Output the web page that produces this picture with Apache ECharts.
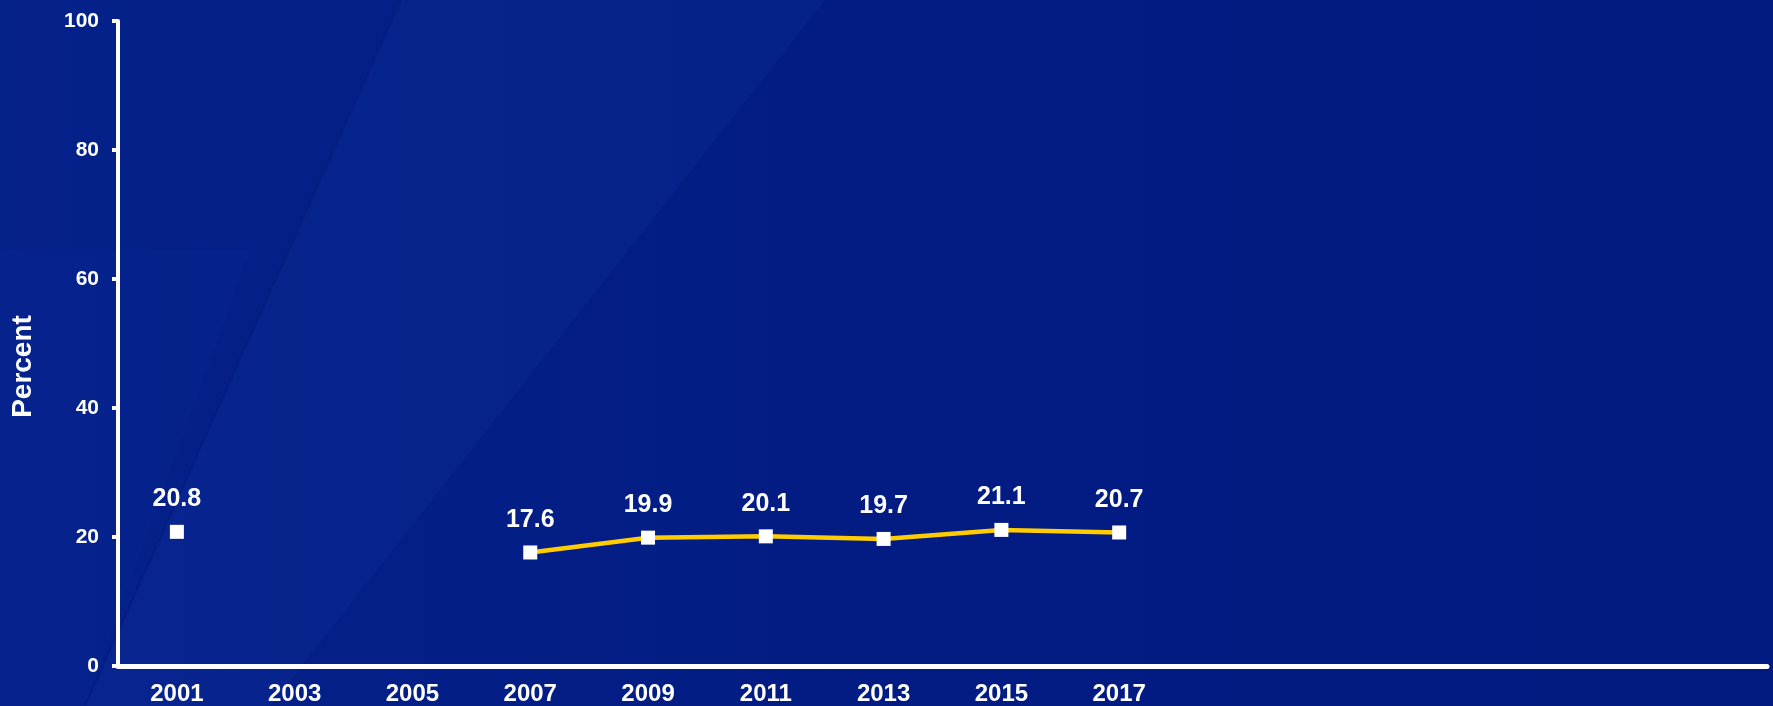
<!DOCTYPE html>
<html>
<head>
<meta charset="utf-8">
<script src="https://cdn.jsdelivr.net/npm/echarts@6/dist/echarts.min.js"></script>
<style>
html,body{margin:0;padding:0;background:#001a80;}
#chart{width:1773px;height:706px;}
</style>
</head>
<body>
<div id="chart"></div>
<script>
const categories = ['2001','2003','2005','2007','2009','2011','2013','2015','2017','2019','2021','2023','2025','2027'];
const tickLabels = ['2001','2003','2005','2007','2009','2011','2013','2015','2017','','','','',''];
const percentValues = [20.8, null, null, 17.6, 19.9, 20.1, 19.7, 21.1, 20.7, null, null, null, null, null];
const yTicks = [0, 20, 40, 60, 80, 100];

const chart = echarts.init(document.getElementById('chart'));
chart.setOption({
  backgroundColor: {
    type: 'linear', x: 0, y: 0, x2: 1, y2: 0,
    colorStops: [{offset: 0, color: '#05218a'}, {offset: 0.5, color: '#021c83'}, {offset: 1, color: '#001a80'}]
  },
  graphic: [
    {type: 'polygon', silent: true, z: -10,
     shape: {points: [[400, 0], [825, 0], [270, 706], [85, 706]]},
     style: {fill: 'rgba(25,60,175,0.16)'}},
    {type: 'polygon', silent: true, z: -10,
     shape: {points: [[0, 250], [0, 706], [85, 706], [250, 250]]},
     style: {fill: 'rgba(30,65,175,0.08)'}},
    {type: 'line', silent: true, z: -9,
     shape: {x1: 401, y1: 0, x2: 85, y2: 706},
     style: {stroke: 'rgba(0,15,100,0.25)', lineWidth: 2}}
  ],
  grid: {left: 118, right: 6, top: 21, bottom: 40, containLabel: false},
  xAxis: {
    type: 'category',
    data: categories,
    boundaryGap: true,
    axisLine: {lineStyle: {color: '#ffffff', width: 5}},
    axisTick: {show: false},
    splitLine: {show: false},
    axisLabel: {
      interval: 0,
      margin: 16,
      color: '#ffffff',
      fontFamily: 'Liberation Sans',
      fontWeight: 'bold',
      fontSize: 24,
      formatter: function (v, i) { return tickLabels[i]; }
    }
  },
  yAxis: {
    type: 'value',
    min: 0, max: 100, interval: 20,
    name: 'Percent',
    nameLocation: 'middle',
    nameGap: 81,
    nameRotate: 90,
    nameTextStyle: {color: '#ffffff', fontFamily: 'Liberation Sans', fontWeight: 'bold', fontSize: 28, padding: [0, 46, 0, 0]},
    axisLine: {show: true, lineStyle: {color: '#ffffff', width: 4}},
    axisTick: {show: true, inside: false, length: 6, lineStyle: {color: '#ffffff', width: 4}},
    splitLine: {show: false},
    axisLabel: {
      margin: 19,
      color: '#ffffff',
      fontFamily: 'Liberation Sans',
      fontWeight: 'bold',
      fontSize: 21,
      formatter: function (v) { return yTicks.indexOf(v) >= 0 ? String(v) : ''; }
    }
  },
  series: [{
    type: 'line',
    data: percentValues,
    connectNulls: false,
    symbol: 'rect',
    symbolSize: 14,
    showAllSymbol: true,
    itemStyle: {color: '#ffffff'},
    lineStyle: {color: '#ffcc00', width: 4.5},
    label: {
      show: true,
      position: 'top',
      distance: 13,
      color: '#ffffff',
      fontFamily: 'Liberation Sans',
      fontWeight: 'bold',
      fontSize: 25,
      formatter: function (p) { return p.value == null ? '' : p.value.toFixed(1); }
    },
    emphasis: {disabled: true},
    animation: false
  }],
  animation: false
});
</script>
</body>
</html>
